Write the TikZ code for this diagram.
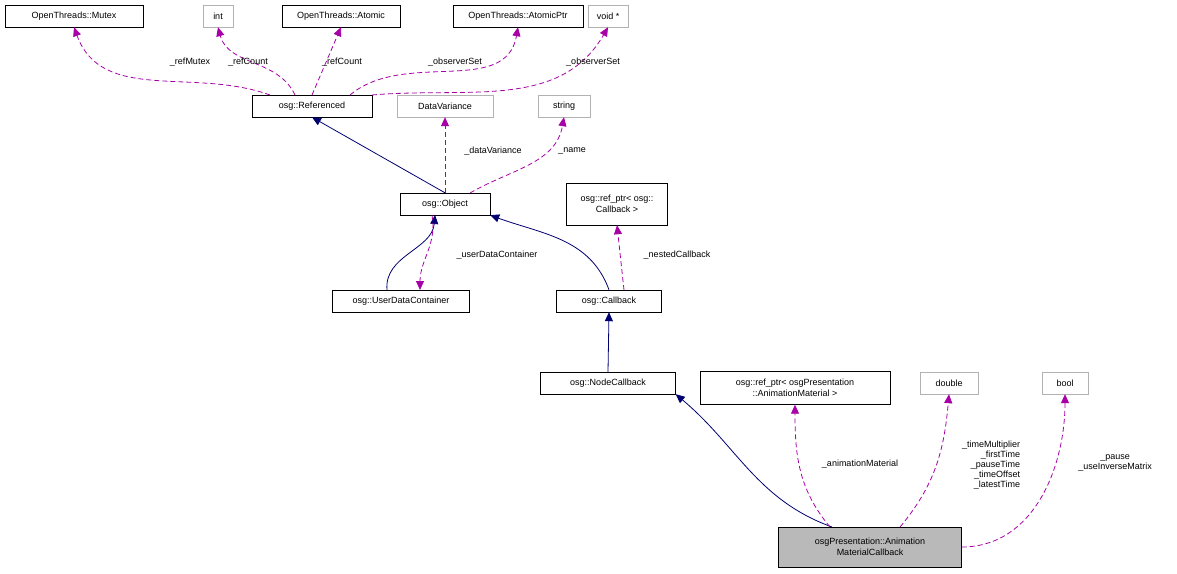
\documentclass[tikz,border=0pt]{standalone}
\usepackage{fontspec}
\setmainfont{Liberation Sans}
\usetikzlibrary{arrows.meta}
\begin{document}
\begin{tikzpicture}[x=1pt,y=-1pt,font=\fontsize{9}{10.5}\selectfont,
 box/.style={draw=black,fill=white,inner sep=0pt,align=center},
 gbox/.style={draw=gray!60,fill=white,inner sep=0pt,align=center},
 inh/.style={draw=blue!30!black!80!blue,-{Triangle[length=9pt,width=8pt]},thick},
 use/.style={draw=violet!70!magenta,dash pattern=on 5pt off 3pt,-{Triangle[length=9pt,width=8pt]},thick},
 lab/.style={font=\fontsize{9}{10}\selectfont,align=center,inner sep=1pt}]
\useasboundingbox (0,0) rectangle (1177,573);
\node[box,minimum width=138,minimum height=22] (mutex) at (74,16) {OpenThreads::Mutex};
\node[gbox,minimum width=30,minimum height=22] (int) at (218,16) {int};
\node[box,minimum width=118,minimum height=22] (atomic) at (341,16) {OpenThreads::Atomic};
\node[box,minimum width=130,minimum height=22] (aptr) at (518,16) {OpenThreads::AtomicPtr};
\node[gbox,minimum width=40,minimum height=22] (void) at (608,16) {void *};
\node[box,minimum width=120,minimum height=22] (ref) at (312,106) {osg::Referenced};
\node[gbox,minimum width=96,minimum height=22] (dv) at (445,106) {DataVariance};
\node[gbox,minimum width=52,minimum height=22] (str) at (564,106) {string};
\node[box,minimum width=90,minimum height=22] (obj) at (445,204) {osg::Object};
\node[box,minimum width=101,minimum height=42] (rcb) at (617,204) {osg::ref\_ptr< osg::\\Callback >};
\node[box,minimum width=137,minimum height=22] (udc) at (401,301) {osg::UserDataContainer};
\node[box,minimum width=105,minimum height=22] (cb) at (609,301) {osg::Callback};
\node[box,minimum width=135,minimum height=22] (ncb) at (608,383) {osg::NodeCallback};
\node[box,minimum width=190,minimum height=33] (ram) at (795,388) {osg::ref\_ptr< osgPresentation\\::AnimationMaterial >};
\node[gbox,minimum width=58,minimum height=22] (dbl) at (949,383) {double};
\node[gbox,minimum width=46,minimum height=22] (bool) at (1065,383) {bool};
\node[box,fill=gray!55,minimum width=183,minimum height=40] (amc) at (870,547) {osgPresentation::Animation\\MaterialCallback};

\coordinate (r0) at (270,95);
\coordinate (r1) at (295,95);
\coordinate (r2) at (312,95);
\coordinate (r3) at (350,95);
\coordinate (r4) at (372,95);
\draw[use] (r0) to[out=160,in=-70] (mutex.south);
\node[lab] at (190,62) {\_refMutex};
\draw[use] (r1) to[out=115,in=-75] (int.south);
\node[lab] at (248,62) {\_refCount};
\draw[use] (r2) -- (atomic.south);
\node[lab] at (342,62) {\_refCount};
\draw[use] (r3) to[out=40,in=-100] (aptr.south);
\node[lab] at (455,62) {\_observerSet};
\draw[use] (r4) to[out=5,in=-120] (void.south);
\node[lab] at (593,62) {\_observerSet};

\draw[inh] (obj.north) -- (ref.south);
\draw[use] (obj.north) -- (dv.south);
\node[lab] at (493,151) {\_dataVariance};
\coordinate (o1) at (470,193);
\draw[use] (o1) to[out=30,in=-100] (str.south);
\node[lab] at (572,151) {\_name};

\coordinate (u1) at (387,290);
\coordinate (ot) at (435,215);
\coordinate (o2) at (432,215);
\coordinate (u2) at (420,290);
\draw[inh] (u1) to[out=95,in=-95] (ot);
\draw[use] (o2) to[out=-80,in=90] (u2);
\node[lab] at (497,255) {\_userDataContainer};
\draw[inh] (cb.north) to[out=110,in=-20] (obj.south east);
\coordinate (c1) at (624,290);
\draw[use] (c1) -- (rcb.south);
\node[lab] at (677,255) {\_nestedCallback};
\draw[inh] (ncb.north) -- (cb.south);
\coordinate (a1) at (832,527);
\draw[inh] (a1) to[out=160,in=-40] (ncb.south east);
\coordinate (a2) at (830,527);
\draw[use] (a2) to[out=130,in=-90] (ram.south);
\node[lab] at (860,464) {\_animationMaterial};
\coordinate (a3) at (900,527);
\draw[use] (a3) to[out=50,in=-95] (dbl.south);
\node[lab,align=right] at (991,465) {\_timeMultiplier\\\_firstTime\\\_pauseTime\\\_timeOffset\\\_latestTime};
\draw[use] (amc.east) to[out=0,in=-90] (bool.south);
\node[lab] at (1115,463) {\_pause\\\_useInverseMatrix};
\end{tikzpicture}
\end{document}
